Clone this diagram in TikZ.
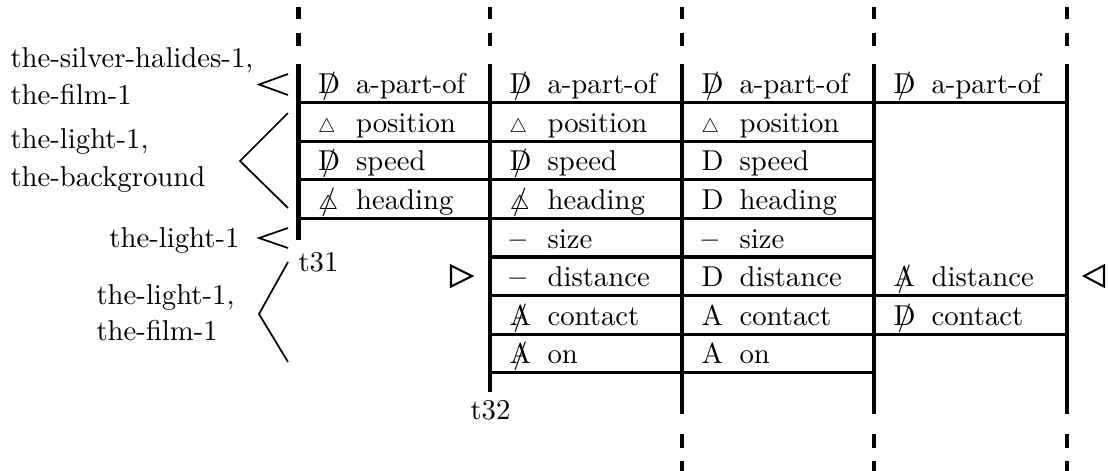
\documentclass[tikz,border=0pt]{standalone}
\usepackage{amssymb}
\usepackage{graphicx}
\newcommand\slsh[1]{\ooalign{#1\cr\hidewidth/\hidewidth}}
\newcommand\sD{\slsh{D}}
\newcommand\sA{\slsh{A}}
\newcommand\tri{\scalebox{0.68}{$\triangle$}}
\newcommand\sT{\slsh{$\scriptstyle\triangle$}}
\newcommand\dsh{\textbf{--}}
\begin{document}
\begin{tikzpicture}[x=0.3484pt,y=-0.3484pt,
  vline/.style={line width=1.4pt},
  hline/.style={line width=1.1pt},
  ang/.style={line width=0.6pt},
  trig/.style={line width=0.7pt, line join=miter},
  txt/.style={anchor=base west, inner sep=0pt, font=\fontsize{10}{12}\selectfont},
  txtr/.style={anchor=base east, inner sep=0pt, font=\fontsize{10}{12}\selectfont}]
\useasboundingbox (0,0) rectangle (1109,470);

% vertical lines: top dashes
\foreach \x in {298.5,490,682,874,1067}{
  \draw[vline] (\x,7) -- (\x,18.5);
  \draw[vline] (\x,32.5) -- (\x,45.5);
}
% bottom dashes
\foreach \x in {682,874,1067}{
  \draw[vline] (\x,434) -- (\x,447.5);
  \draw[vline] (\x,461) -- (\x,472);
}
% solid verticals
\draw[vline] (298.5,64) -- (298.5,240);
\draw[vline] (490,64) -- (490,392);
\draw[vline] (682,64) -- (682,414);
\draw[vline] (874,64) -- (874,414);
\draw[vline] (1067,64) -- (1067,414);

% horizontal lines
\foreach \y in {102.6,141.2,179.8,218.4}{\draw[hline] (298.5,\y) -- (490,\y);}
\foreach \y in {102.6,141.2,179.8,218.4,257,295.6,334.2,372.8}{\draw[hline] (490,\y) -- (874,\y);}
\foreach \y in {102.6,295.6,334.2}{\draw[hline] (874,\y) -- (1067,\y);}

% column 1
\node[txt] (s11) at (317.5,93.6) {\sD};   \node[txt] (t11) at (355.5,93.6) {a-part-of};
\node[txt] (s12) at (317.5,132.2) {\tri}; \node[txt] (t12) at (355.5,132.2) {position};
\node[txt] (s13) at (317.5,170.8) {\sD};  \node[txt] (t13) at (355.5,170.8) {speed};
\node[txt] (s14) at (317.5,209.4) {\sT};  \node[txt] (t14) at (355.5,209.4) {heading};
% column 2
\node[txt] (s21) at (509,93.6) {\sD};   \node[txt] (t21) at (547,93.6) {a-part-of};
\node[txt] (s22) at (509,132.2) {\tri}; \node[txt] (t22) at (547,132.2) {position};
\node[txt] (s23) at (509,170.8) {\sD};  \node[txt] (t23) at (547,170.8) {speed};
\node[txt] (s24) at (509,209.4) {\sT};  \node[txt] (t24) at (547,209.4) {heading};
\node[txt] (s25) at (509,248) {\dsh};   \node[txt] (t25) at (547,248) {size};
\node[txt] (s26) at (509,286.6) {\dsh}; \node[txt] (t26) at (547,286.6) {distance};
\node[txt] (s27) at (509,325.2) {\sA};  \node[txt] (t27) at (547,325.2) {contact};
\node[txt] (s28) at (509,363.8) {\sA};  \node[txt] (t28) at (547,363.8) {on};
% column 3
\node[txt] (s31) at (701,93.6) {\sD};   \node[txt] (t31c) at (739,93.6) {a-part-of};
\node[txt] (s32) at (701,132.2) {\tri}; \node[txt] (t32c) at (739,132.2) {position};
\node[txt] (s33) at (701,170.8) {D};    \node[txt] (t33) at (739,170.8) {speed};
\node[txt] (s34) at (701,209.4) {D};    \node[txt] (t34) at (739,209.4) {heading};
\node[txt] (s35) at (701,248) {\dsh};   \node[txt] (t35) at (739,248) {size};
\node[txt] (s36) at (701,286.6) {D};    \node[txt] (t36) at (739,286.6) {distance};
\node[txt] (s37) at (701,325.2) {A};    \node[txt] (t37) at (739,325.2) {contact};
\node[txt] (s38) at (701,363.8) {A};    \node[txt] (t38) at (739,363.8) {on};
% column 4
\node[txt] (s41) at (893,93.6) {\sD};   \node[txt] (t41) at (931,93.6) {a-part-of};
\node[txt] (s46) at (893,286.6) {\sA};  \node[txt] (t46) at (931,286.6) {distance};
\node[txt] (s47) at (893,325.2) {\sD};  \node[txt] (t47) at (931,325.2) {contact};

% time labels
\node[txt] (t31) at (298,271) {t31};
\node[txt] (t32) at (470,419) {t32};

% triangles
\draw[trig] (451,265.5) -- (472,276) -- (451,286.5) -- cycle;
\draw[trig] (1104,265.5) -- (1084,276) -- (1104,286.5) -- cycle;

% left labels
\node[txt] (la1) at (10,67) {the-silver-halides-1,};
\node[txt] (la2) at (10,104) {the-film-1};
\node[txt] (lb1) at (10,148) {the-light-1,};
\node[txt] (lb2) at (10,186) {the-background};
\node[txtr] (lc1) at (240,247) {the-light-1};
\node[txt] (ld1) at (96,304) {the-light-1,};
\node[txt] (ld2) at (96,340) {the-film-1};

% angle brackets
\draw[ang] (288,74) -- (259,84.5) -- (288,95);
\draw[ang] (288,113) -- (240,161) -- (288,208);
\draw[ang] (288,228) -- (259,238) -- (288,248);
\draw[ang] (288,262) -- (259,314) -- (288,362);
\end{tikzpicture}
\end{document}
